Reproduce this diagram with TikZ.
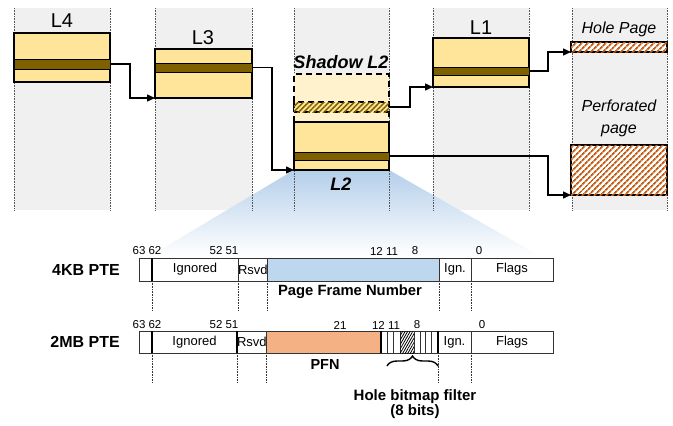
\documentclass[tikz,border=0pt]{standalone}
\usepackage{fontspec}
\setmainfont{Liberation Sans}
\usetikzlibrary{arrows.meta,patterns.meta,decorations.pathreplacing,calc}
\definecolor{colgray}{HTML}{F0F0F0}
\definecolor{gold}{HTML}{FFE599}
\definecolor{goldlight}{HTML}{FFF2CC}
\definecolor{brownd}{HTML}{7F6000}
\definecolor{hatchor}{HTML}{C55A11}
\definecolor{pfnblue}{HTML}{BDD7EE}
\definecolor{pfnor}{HTML}{F4B183}
\definecolor{fanblue}{HTML}{B4CFEA}
\definecolor{rowline}{HTML}{333333}
\begin{document}
\begin{tikzpicture}[x=1pt,y=-1pt,
  pbox/.style={draw=black, line width=1.6pt, fill=gold, inner sep=0pt, outer sep=0pt, anchor=north west, minimum width=96pt, minimum height=49pt},
  stripe/.style={draw=black, line width=1pt, fill=brownd, inner sep=0pt, outer sep=0pt, anchor=north west, minimum width=96pt},
  conn/.style={-{Triangle[length=8pt,width=7pt]}, line width=1.4pt},
  dotcol/.style={draw=black!65, line width=0.7pt, dash pattern=on 0.8pt off 0.8pt},
  dotrow/.style={draw=black!80, line width=0.7pt, dash pattern=on 0.8pt off 0.8pt},
  lvl/.style={font=\fontsize{20}{24}\selectfont},
  ital/.style={font=\fontsize{16}{22}\selectfont\itshape, align=center},
  bolditl/.style={font=\fontsize{18}{22}\selectfont\bfseries\itshape},
  cell/.style={draw=rowline, line width=0.9pt, anchor=north west, inner sep=0pt, outer sep=0pt, font=\fontsize{13}{15}\selectfont},
  bitnum/.style={font=\fontsize{11.5}{13}\selectfont, inner sep=0pt},
  blab/.style={font=\fontsize{14.8}{16}\selectfont\bfseries, inner sep=0pt, align=center},
  ptelab/.style={font=\fontsize{16}{18}\selectfont\bfseries, anchor=east, inner sep=0pt}
]
\useasboundingbox (0,0) rectangle (673,426);
% gray columns
\foreach \a/\b in {14/110,155/252,294/389,433/529,572/667}{
  \fill[colgray] (\a,8) rectangle (\b,210);
}
% fan
\shade[top color=fanblue, bottom color=white] (294,170) -- (389,170) -- (540,256) -- (150,256) -- cycle;
% dotted column borders
\foreach \x in {14,110,155,252,294,389,433,529,572,667}{
  \draw[dotcol] (\x,8) -- (\x,210);
}
% labels
\node[lvl] (tL4) at (62,21) {L4};
\node[lvl] (tL3) at (203,38) {L3};
\node[lvl] (tL1) at (481,28) {L1};
\node[bolditl] (tSh) at (341,62) {Shadow L2};
\node[bolditl] (tL2) at (341,184) {L2};
\node[ital] (tHP) at (619,29) {Hole Page};
\node[ital] (tPP) at (619,118) {Perforated\\page};
% boxes
\node[pbox] (L4) at (14,33) {};
\node[stripe, minimum height=10pt] (L4s) at (14,59) {};
\node[pbox, minimum width=97pt] (L3) at (155,49) {};
\node[stripe, minimum width=97pt, minimum height=9pt] (L3s) at (155,63) {};
\node[pbox, minimum width=95pt, minimum height=48pt, fill=goldlight, dash pattern=on 6pt off 4pt] (SH) at (294,74) {};
\node[stripe, minimum width=95pt, minimum height=10pt, fill=gold, line width=1.4pt, dash pattern=on 6pt off 4pt,
      postaction={pattern={Lines[angle=45,distance=3.6pt,line width=1.5pt]}, pattern color=brownd}] (SHs) at (294,102) {};
\node[pbox, minimum width=95pt, minimum height=48pt] (L2) at (294,122) {};
\node[stripe, minimum width=95pt, minimum height=8pt] (L2s) at (294,152) {};
\node[pbox] (L1) at (433,38) {};
\node[stripe, minimum height=8pt] (L1s) at (433,67) {};
\node[pbox, minimum height=10pt, fill=white, postaction={pattern={Lines[angle=45,distance=4pt,line width=1.8pt]}, pattern color=hatchor}] (HP) at (571,42) {};
\node[pbox, minimum height=50pt, fill=white, postaction={pattern={Lines[angle=45,distance=4pt,line width=1.8pt]}, pattern color=hatchor}] (PP) at (571,145) {};
% connectors
\draw[conn] (L4s.east) -- ++(20,0) |- (L3.south west);
\draw[conn] (L3s.east) -- ++(20,0) |- (L2.south west);
\draw[conn] (SHs.east) -- ++(21,0) |- (L1.south west);
\draw[conn] (L1s.east) -- ++(19,0) |- (HP.south west);
\draw[conn] (L2s.east) -- ++(159,0) |- (PP.south west);

% ---- 4KB PTE ----
\node[ptelab] (k4) at (120,270) {4KB PTE};
\node[cell, minimum width=13pt, minimum height=23pt] (k63) at (139,258) {};
\node[cell, minimum width=86pt, minimum height=23pt] (kIg) at (152,258) {Ignored};
\node[cell, minimum width=29pt, minimum height=23pt] (kRs) at (238,258) {Rsvd};
\node[cell, minimum width=172pt, minimum height=23pt, fill=pfnblue] (kPF) at (267,258) {};
\node[cell, minimum width=32pt, minimum height=23pt] (kIn) at (439,258) {Ign.};
\node[cell, minimum width=82pt, minimum height=23pt] (kFl) at (471,258) {Flags};
\draw[line width=1.6pt] (kIg.north west) -- (kIg.south west);
\node[bitnum] at (147,251) {63 62};
\node[bitnum] at (224,251) {52 51};
\node[bitnum] at (384,251) {12 11};
\node[bitnum] at (415,251) {8};
\node[bitnum] at (479,251) {0};
\node[blab] (kPFN) at (350,292) {Page Frame Number};
\foreach \n in {kIg,kRs,kPF,kIn,kFl}{
  \draw[dotrow] (\n.south west) -- ++(0,29);
}

% ---- 2MB PTE ----
\node[ptelab] (m2) at (120,342) {2MB PTE};
\node[cell, minimum width=13pt, minimum height=22pt] (m63) at (139,331) {};
\node[cell, minimum width=85pt, minimum height=22pt] (mIg) at (152,331) {Ignored};
\node[cell, minimum width=29pt, minimum height=22pt] (mRs) at (237,331) {Rsvd};
\node[cell, minimum width=115pt, minimum height=22pt, fill=pfnor] (mPF) at (266,331) {};
\node[cell, minimum width=6pt, minimum height=22pt] (b1) at (381,331) {};
\node[cell, minimum width=6pt, minimum height=22pt] (b2) at (387,331) {};
\node[cell, minimum width=7pt, minimum height=22pt] (b3) at (393,331) {};
\node[cell, minimum width=14pt, minimum height=22pt, fill=white, postaction={pattern={Lines[angle=60,distance=2.2pt,line width=0.8pt]}, pattern color=black}] (b4) at (400,331) {};
\node[cell, minimum width=6pt, minimum height=22pt] (b5) at (414,331) {};
\node[cell, minimum width=5pt, minimum height=22pt] (b6) at (420,331) {};
\node[cell, minimum width=6pt, minimum height=22pt] (b7) at (425,331) {};
\node[cell, minimum width=7pt, minimum height=22pt] (b8) at (431,331) {};
\node[cell, minimum width=33pt, minimum height=22pt] (mIn) at (438,331) {Ign.};
\node[cell, minimum width=82pt, minimum height=22pt] (mFl) at (471,331) {Flags};
\draw[line width=1.6pt] (mIg.north west) -- (mIg.south west);
\draw[line width=1.6pt] (mRs.north west) -- (mRs.south west);
\draw[line width=1.4pt] (mIn.north west) -- (mIn.south west);
\draw[line width=1.2pt] (b1.north west) -- (b1.south west);
\node[bitnum] at (147,325) {63 62};
\node[bitnum] at (224,325) {52 51};
\node[bitnum] at (340,325) {21};
\node[bitnum] at (386,325) {12 11};
\node[bitnum] at (417,325) {8};
\node[bitnum] at (482,325) {0};
\node[blab, font=\fontsize{14.5}{16}\selectfont\bfseries] (mPFN) at (325,365) {PFN};
\foreach \n in {mIg,mRs,mPF,mIn,mFl}{
  \draw[dotrow] (\n.south west) -- ++(0,29);
}
\coordinate (brR) at ($(mIn.south west)+(0,13)$);
\coordinate (brL) at ($(b2.south west)+(0,13)$);
\draw[line width=1.4pt, decorate, decoration={brace, amplitude=10pt, mirror}] (brR) -- (brL);
\node[blab, font=\fontsize{15}{14.5}\selectfont\bfseries] (hbf) at (415,404) {Hole bitmap filter\\(8 bits)};
\end{tikzpicture}
\end{document}
